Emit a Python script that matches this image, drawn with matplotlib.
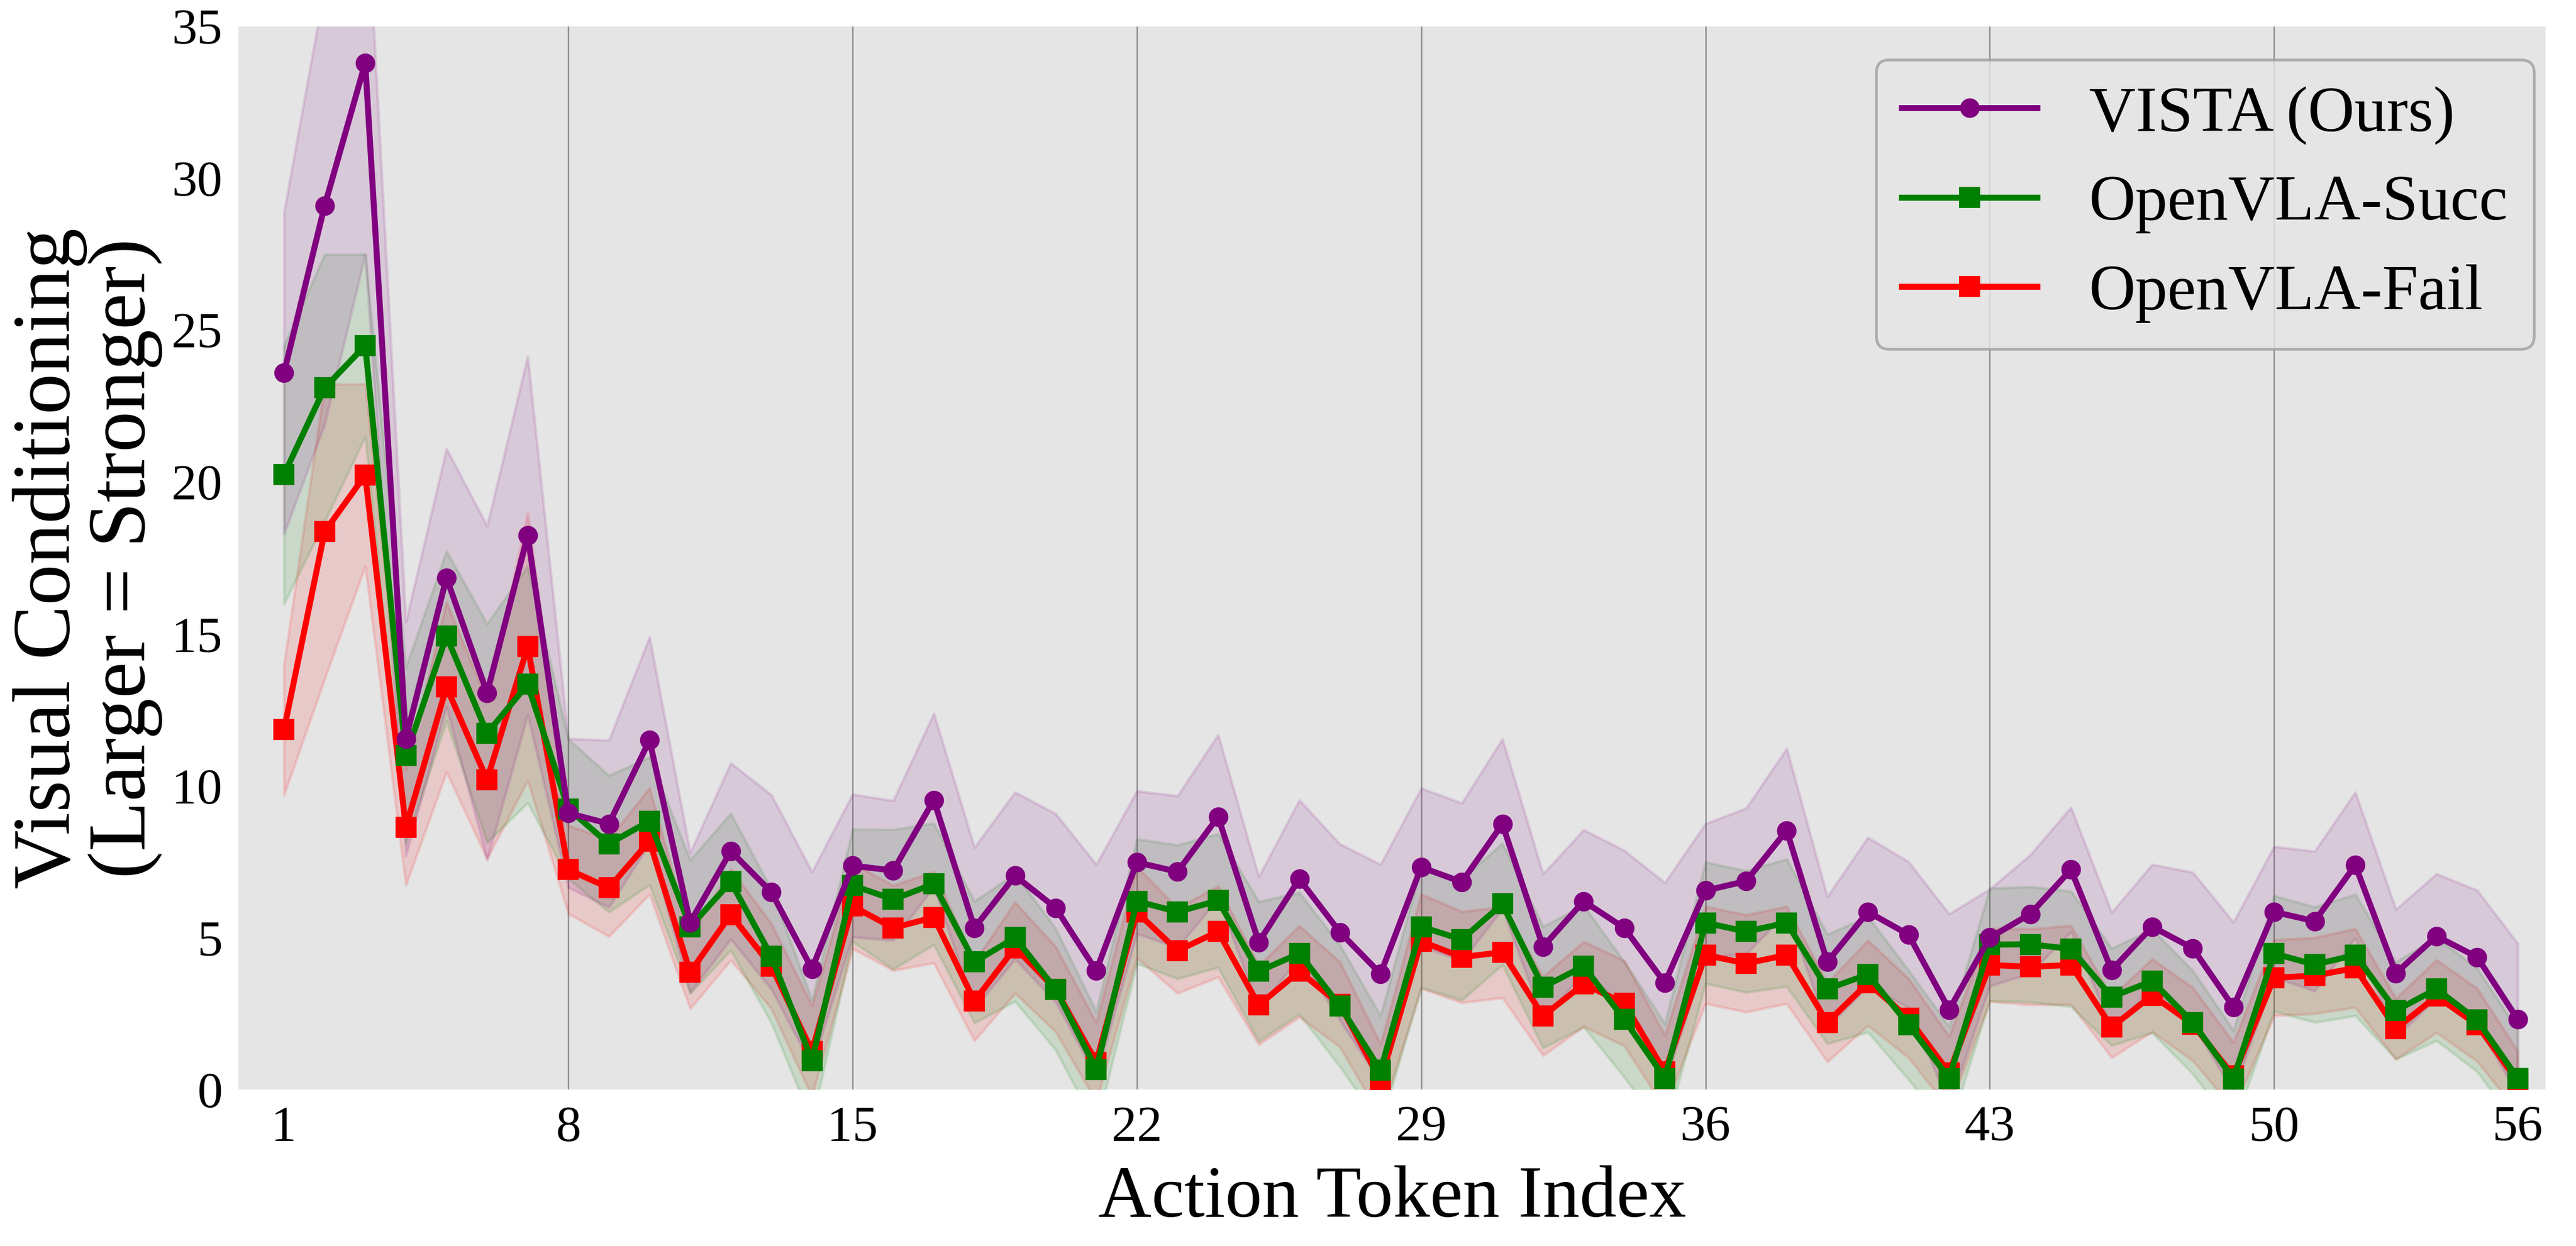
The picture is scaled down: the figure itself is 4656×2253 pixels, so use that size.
import matplotlib
matplotlib.use("Agg")
import matplotlib.pyplot as plt
import numpy as np

plt.rcParams['font.family'] = ['Liberation Serif', 'DejaVu Serif']

# action token index 1..56
tokens = np.arange(1, 57)

vista_mean = [23.6, 29.1, 33.8, 11.55, 16.85, 13.06, 18.24,
              9.1, 8.75, 11.5, 5.5, 7.85, 6.5, 3.97, 7.37, 7.21, 9.53, 5.32, 7.04, 5.98, 3.91, 7.48, 7.17, 8.98, 4.85,
              6.93, 5.18, 3.81, 7.32, 6.83, 8.74, 4.7, 6.2, 5.32, 3.51, 6.55, 6.86, 8.53, 4.2, 5.85, 5.1,
              2.63, 5.0, 5.78, 7.24, 3.93, 5.36, 4.65, 2.71, 5.85, 5.54, 7.39, 3.83, 5.05, 4.36, 2.31]
vista_std = [5.3, 7.2, 6.3, 3.85, 4.25, 5.5, 5.9,
             2.45, 2.75, 3.4, 2.3, 2.9, 3.2, 3.2, 2.35, 2.3, 2.85, 2.65, 2.75, 3.1, 3.5, 2.35, 2.5, 2.7, 2.15,
             2.6, 2.9, 3.6, 2.6, 2.6, 2.8, 2.4, 2.35, 2.55, 3.3, 2.2, 2.4, 2.7, 2.15, 2.45, 2.4,
             3.15, 1.6, 1.95, 2.05, 1.9, 2.05, 2.5, 2.8, 2.15, 2.3, 2.4, 2.1, 2.05, 2.2, 2.5]

succ_mean = [20.25, 23.1, 24.5, 11.0, 14.93, 11.73, 13.34,
             9.24, 8.09, 8.84, 5.36, 6.84, 4.39, 0.95, 6.72, 6.26, 6.77, 4.2, 5.0, 3.3, 0.66, 6.2, 5.85, 6.22, 3.89,
             4.48, 2.75, 0.63, 5.36, 4.94, 6.11, 3.37, 4.06, 2.31, 0.37, 5.49, 5.2, 5.49, 3.31, 3.79, 2.13,
             0.37, 4.77, 4.78, 4.63, 3.05, 3.57, 2.21, 0.35, 4.48, 4.11, 4.43, 2.6, 3.31, 2.29, 0.37]
succ_std = [4.25, 4.4, 3.0, 2.9, 2.8, 3.6, 3.9,
            2.3, 2.25, 2.1, 2.2, 2.25, 2.2, 2.0, 1.85, 2.3, 2.0, 2.0, 2.1, 2.0, 1.9, 2.05, 2.2, 2.2, 2.3,
            2.0, 2.0, 1.8, 2.0, 2.0, 2.0, 2.0, 2.0, 1.9, 1.8, 2.0, 2.0, 2.1, 1.8, 1.9, 1.8,
            1.7, 1.85, 1.9, 1.9, 1.6, 1.7, 1.7, 1.6, 1.9, 1.9, 2.0, 1.6, 1.7, 1.7, 1.6]

fail_mean = [11.85, 18.37, 20.23, 8.63, 13.25, 10.2, 14.58,
             7.24, 6.64, 8.18, 3.86, 5.76, 4.06, 1.26, 6.04, 5.32, 5.67, 2.91, 4.67, 3.3, 0.9, 5.84, 4.57, 5.2, 2.78,
             3.89, 2.8, 0.29, 4.88, 4.36, 4.52, 2.42, 3.47, 2.84, 0.58, 4.43, 4.15, 4.43, 2.21, 3.51, 2.35,
             0.55, 4.1, 4.04, 4.1, 2.05, 3.1, 2.15, 0.45, 3.68, 3.75, 4.0, 2.0, 3.07, 2.13, 0.26]
fail_std = [2.15, 4.85, 3.0, 1.9, 2.8, 2.6, 4.4,
            1.45, 1.6, 1.75, 1.2, 1.5, 1.4, 1.5, 1.4, 1.4, 1.5, 1.3, 1.5, 1.4, 1.3, 1.5, 1.4, 1.5, 1.3,
            1.5, 1.4, 1.2, 1.55, 1.5, 1.5, 1.3, 1.4, 1.4, 1.2, 1.6, 1.6, 1.6, 1.3, 1.4, 1.3,
            1.2, 1.2, 1.25, 1.3, 1.0, 1.2, 1.2, 1.1, 1.25, 1.25, 1.3, 1.0, 1.2, 1.2, 1.0]

xtick_pos = [1, 8, 15, 22, 29, 36, 43, 50, 56]
grid_pos = [8, 15, 22, 29, 36, 43, 50]

fig = plt.figure(figsize=(15.52, 7.51), dpi=300)
ax = fig.add_axes([0.0926, 0.1256, 0.8955, 0.8531])
ax.set_facecolor('#e5e5e5')

for g in grid_pos:
    ax.axvline(g, color='#8c8c8c', lw=0.6, zorder=0.5)

series = [
    ("OpenVLA-Fail", fail_mean, fail_std, 'red', 's', 8),
    ("OpenVLA-Succ", succ_mean, succ_std, 'green', 's', 8),
    ("VISTA (Ours)", vista_mean, vista_std, 'purple', 'o', 7.5),
]
handles = {}
for name, m, s, c, mk, ms in series:
    m = np.array(m)
    s = np.array(s)
    ax.fill_between(tokens, m - s, m + s, color=c, alpha=0.12, lw=1.2)
    ln, = ax.plot(tokens, m, color=c, marker=mk, lw=2.6, markersize=ms, label=name)
    handles[name] = ln

ax.set_xlim(-0.12, 56.68)
ax.set_ylim(0, 35)
ax.set_xticks(xtick_pos)
ax.set_yticks(np.arange(0, 36, 5))
ax.tick_params(axis='both', length=0, labelsize=22, pad=7)
for sp in ax.spines.values():
    sp.set_visible(False)

ax.set_xlabel("Action Token Index", fontsize=32, labelpad=6)
ax.set_ylabel("Visual Conditioning\n(Larger = Stronger)", fontsize=35.5, linespacing=1.0)

order = ["VISTA (Ours)", "OpenVLA-Succ", "OpenVLA-Fail"]
leg = ax.legend([handles[k] for k in order], order, loc='upper right',
                bbox_to_anchor=(0.995, 0.969), borderaxespad=0, fontsize=28,
                handlelength=2.1, handletextpad=0.8, labelspacing=0.47,
                fancybox=True, framealpha=0.8, facecolor='#e5e5e5', edgecolor='#a0a0a0')
leg.get_frame().set_linewidth(1.2)

fig.savefig("out.png", dpi=300)
